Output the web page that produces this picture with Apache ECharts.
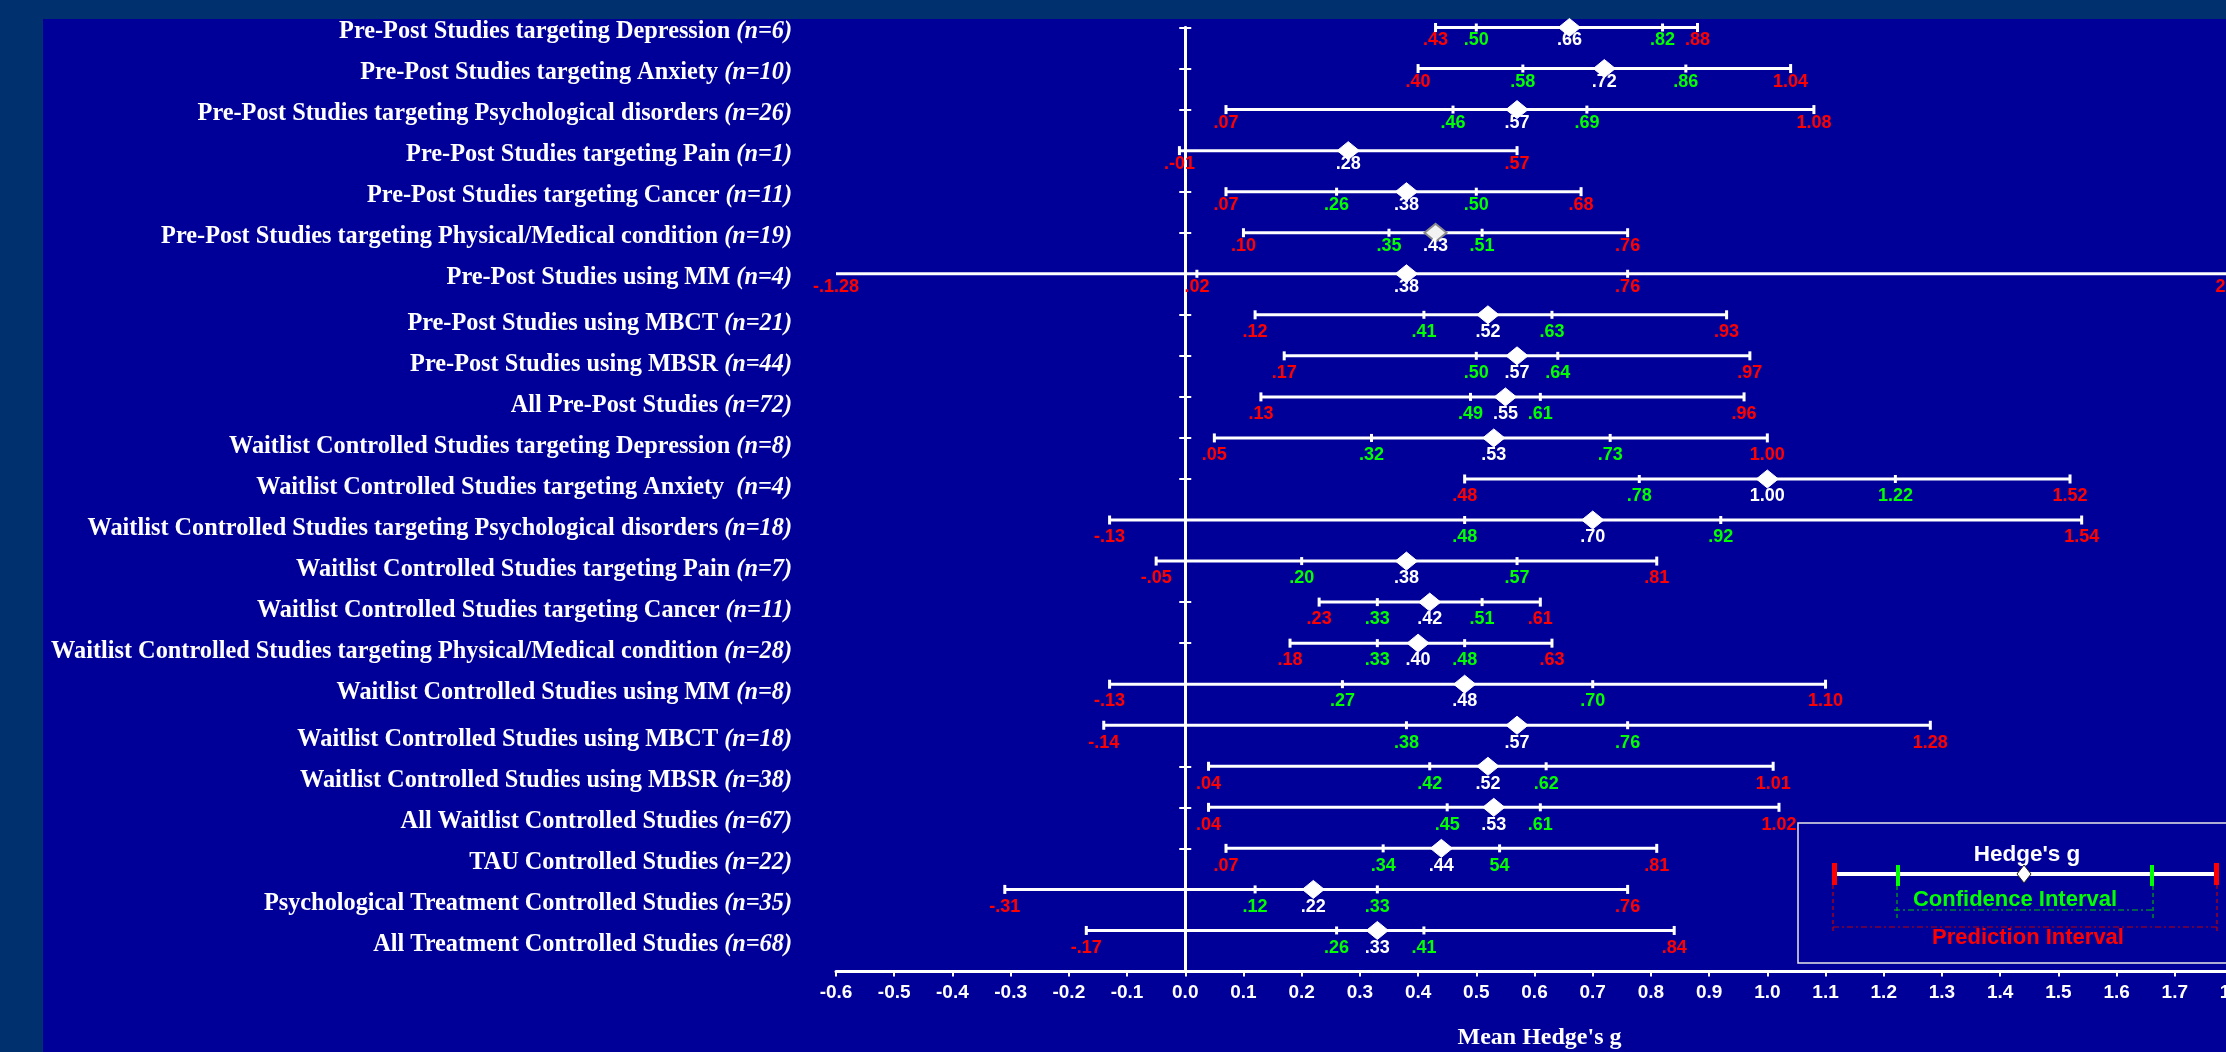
<!DOCTYPE html>
<html>
<head>
<meta charset="utf-8">
<script src="https://cdn.jsdelivr.net/npm/echarts@6/dist/echarts.min.js"></script>
<style>
  html, body { margin: 0; padding: 0; }
  #chart {
    width: 2226px; height: 1052px;
    background: linear-gradient(#000099, #000099) 43px 19px / 2183px 1033px no-repeat, #00306e;
  }
</style>
</head>
<body>
<div id="chart"></div>
<script>
// Meta-analysis summary: mean Hedge's g with confidence and prediction intervals
const studyNames = [
  'Pre-Post Studies targeting Depression',
  'Pre-Post Studies targeting Anxiety',
  'Pre-Post Studies targeting Psychological disorders',
  'Pre-Post Studies targeting Pain',
  'Pre-Post Studies targeting Cancer',
  'Pre-Post Studies targeting Physical/Medical condition',
  'Pre-Post Studies using MM',
  'Pre-Post Studies using MBCT',
  'Pre-Post Studies using MBSR',
  'All Pre-Post Studies',
  'Waitlist Controlled Studies targeting Depression',
  'Waitlist Controlled Studies targeting Anxiety ',
  'Waitlist Controlled Studies targeting Psychological disorders',
  'Waitlist Controlled Studies targeting Pain',
  'Waitlist Controlled Studies targeting Cancer',
  'Waitlist Controlled Studies targeting Physical/Medical condition',
  'Waitlist Controlled Studies using MM',
  'Waitlist Controlled Studies using MBCT',
  'Waitlist Controlled Studies using MBSR',
  'All Waitlist Controlled Studies',
  'TAU Controlled Studies',
  'Psychological Treatment Controlled Studies',
  'All Treatment Controlled Studies'
];
const studyCounts = [6, 10, 26, 1, 11, 19, 4, 21, 44, 72, 8, 4, 18, 7, 11, 28, 8, 18, 38, 67, 22, 35, 68];

const piLow   = [0.43, 0.40, 0.07, -0.01, 0.07, 0.10, -1.28, 0.12, 0.17, 0.13, 0.05, 0.48, -0.13, -0.05, 0.23, 0.18, -0.13, -0.14, 0.04, 0.04, 0.07, -0.31, -0.17];
const ciLow   = [0.50, 0.58, 0.46, null, 0.26, 0.35, 0.02, 0.41, 0.50, 0.49, 0.32, 0.78, 0.48, 0.20, 0.33, 0.33, 0.27, 0.38, 0.42, 0.45, 0.34, 0.12, 0.26];
const hedgesG = [0.66, 0.72, 0.57, 0.28, 0.38, 0.43, 0.38, 0.52, 0.57, 0.55, 0.53, 1.00, 0.70, 0.38, 0.42, 0.40, 0.48, 0.57, 0.52, 0.53, 0.44, 0.22, 0.33];
const ciHigh  = [0.82, 0.86, 0.69, null, 0.50, 0.51, 0.76, 0.63, 0.64, 0.61, 0.73, 1.22, 0.92, 0.57, 0.51, 0.48, 0.70, 0.76, 0.62, 0.61, 0.54, 0.33, 0.41];
const piHigh  = [0.88, 1.04, 1.08, 0.57, 0.68, 0.76, 2.04, 0.93, 0.97, 0.96, 1.00, 1.52, 1.54, 0.81, 0.61, 0.63, 1.10, 1.28, 1.01, 1.02, 0.81, 0.76, 0.84];

// x axis ticks
const xTickMin = -0.6;
const xTickMax = 1.8;
const xTickStep = 0.1;

// labels as printed on the slide (a few carry the original typing)
const printedText = { '3:piLow': '.-01', '6:piLow': '-.1.28', '20:ciHigh': '54' };

const WHITE = '#ffffff', RED = '#ff0000', GREEN = '#00ff00';
const SANS = '"Liberation Sans", Arial, sans-serif';
const VALUE_FONT = 'bold 18px ' + SANS;
const SERIF = '"Liberation Serif", "Times New Roman", serif';

// rows are set in three blocks, each one sitting a little lower
function blockOf(i) { return i < 7 ? 0 : (i < 17 ? 1 : 2); }
const valueLabelDrop = [13, 17, 17.5];
const nameLabelPad = [8, 18, 28];

function fmt(v) {
  return v.toFixed(2).replace(/^(-?)0\./, '$1.');
}
function labelText(i, key, v) {
  return printedText[i + ':' + key] || fmt(v);
}

const categories = studyNames.concat(['']);

function renderRow(params, api) {
  const i = params.dataIndex;
  const y = api.coord([0, i])[1];
  const xOf = v => api.coord([v, i])[0];
  const clampV = v => Math.min(Math.max(v, xTickMin), xTickMax);
  const kids = [];
  const ly = y + valueLabelDrop[blockOf(i)];

  // prediction interval bar
  kids.push({ type: 'line', shape: { x1: xOf(clampV(piLow[i])), y1: y, x2: xOf(clampV(piHigh[i])), y2: y },
    style: { stroke: WHITE, lineWidth: 3 } });
  const cap = (v, h) => ({ type: 'rect', shape: { x: xOf(v) - 1.5, y: y - h / 2, width: 3, height: h }, style: { fill: WHITE } });
  [piLow[i], piHigh[i]].forEach(v => { if (v >= xTickMin && v <= xTickMax) kids.push(cap(v, 9)); });
  [ciLow[i], ciHigh[i]].forEach(v => { if (v != null) kids.push(cap(v, 8)); });

  // point estimate
  const gx = xOf(hedgesG[i]);
  const hw = 11, hh = 9;
  const hollow = i === 5;
  kids.push({ type: 'polygon', shape: { points: [[gx, y - hh], [gx + hw, y], [gx, y + hh], [gx - hw, y]] },
    style: { fill: hollow ? '#f2f2f2' : WHITE, stroke: hollow ? '#8a8a8a' : WHITE, lineWidth: hollow ? 2 : 1 } });

  // value labels
  const txt = (v, s, color) => ({ type: 'text', style: { x: xOf(clampV(v)), y: ly, text: s, fill: color,
    font: VALUE_FONT, align: 'center', verticalAlign: 'middle' } });
  const ciColor = i === 6 ? RED : GREEN;
  kids.push(txt(piLow[i], labelText(i, 'piLow', piLow[i]), RED));
  kids.push(txt(piHigh[i], labelText(i, 'piHigh', piHigh[i]), RED));
  if (ciLow[i] != null) kids.push(txt(ciLow[i], labelText(i, 'ciLow', ciLow[i]), ciColor));
  if (ciHigh[i] != null) kids.push(txt(ciHigh[i], labelText(i, 'ciHigh', ciHigh[i]), ciColor));
  kids.push(txt(hedgesG[i], labelText(i, 'g', hedgesG[i]), WHITE));

  return { type: 'group', children: kids };
}

const nameRich = {};
nameLabelPad.forEach((p, b) => {
  nameRich['t' + b] = { fontFamily: SERIF, fontWeight: 'bold', fontSize: 24.3, color: WHITE, padding: [p, 0, 0, 0] };
  nameRich['n' + b] = { fontFamily: SERIF, fontWeight: 'bold', fontStyle: 'italic', fontSize: 24.3, color: WHITE, padding: [p, 0, 0, 0] };
});

const zeroAxis = (inside) => ({
  type: 'category', data: categories, inverse: true, boundaryGap: false,
  axisLine: { show: true, onZero: true, onZeroAxisIndex: 0, lineStyle: { color: WHITE, width: 3 } },
  axisTick: { show: true, inside: inside, length: 6, interval: 0, lineStyle: { color: WHITE, width: 2 } },
  axisLabel: { show: false }, splitLine: { show: false }
});

// legend key drawn at the lower right
const key = [
  { type: 'rect', shape: { x: 1798, y: 823, width: 460, height: 140 }, style: { fill: 'none', stroke: '#e8e8e8', lineWidth: 1.5 } },
  { type: 'text', style: { x: 2027, y: 855, text: "Hedge's g", fill: WHITE, font: 'bold 22.5px ' + SANS, align: 'center', verticalAlign: 'middle' } },
  { type: 'line', shape: { x1: 1835, y1: 874, x2: 2216, y2: 874 }, style: { stroke: WHITE, lineWidth: 4 } },
  { type: 'line', shape: { x1: 1897, y1: 886, x2: 1897, y2: 918 }, style: { stroke: '#00b000', lineWidth: 1.2, lineDash: [4, 3] } },
  { type: 'line', shape: { x1: 2153, y1: 886, x2: 2153, y2: 918 }, style: { stroke: '#00b000', lineWidth: 1.2, lineDash: [4, 3] } },
  { type: 'line', shape: { x1: 1894, y1: 910, x2: 2153, y2: 910 }, style: { stroke: '#00c000', lineWidth: 1.2, lineDash: [6, 3, 2, 3] } },
  { type: 'line', shape: { x1: 1833, y1: 885, x2: 1833, y2: 931 }, style: { stroke: '#c00000', lineWidth: 1.2, lineDash: [4, 3] } },
  { type: 'line', shape: { x1: 2217, y1: 885, x2: 2217, y2: 931 }, style: { stroke: '#c00000', lineWidth: 1.2, lineDash: [4, 3] } },
  { type: 'line', shape: { x1: 1833, y1: 927, x2: 2217, y2: 927 }, style: { stroke: '#c00000', lineWidth: 1.2, lineDash: [6, 3, 2, 3] } },
  { type: 'rect', shape: { x: 1832, y: 863, width: 5, height: 22 }, style: { fill: RED } },
  { type: 'rect', shape: { x: 2214, y: 863, width: 5, height: 22 }, style: { fill: RED } },
  { type: 'rect', shape: { x: 1896, y: 865, width: 4, height: 21 }, style: { fill: GREEN } },
  { type: 'rect', shape: { x: 2150, y: 865, width: 4, height: 21 }, style: { fill: GREEN } },
  { type: 'polygon', shape: { points: [[2024, 865], [2031, 874], [2024, 883], [2017, 874]] }, style: { fill: WHITE, stroke: '#222', lineWidth: 1 } },
  { type: 'text', style: { x: 2015, y: 900, text: 'Confidence Interval', fill: GREEN, font: 'bold 22px ' + SANS, align: 'center', verticalAlign: 'middle' } },
  { type: 'text', style: { x: 2028, y: 938, text: 'Prediction Interval', fill: RED, font: 'bold 22px ' + SANS, align: 'center', verticalAlign: 'middle' } }
];

const chart = echarts.init(document.getElementById('chart'), null, { renderer: 'canvas' });
chart.setOption({
  backgroundColor: 'transparent',
  animation: false,
  grid: { left: 836, top: 27.5, width: 1397, height: 944, containLabel: false, outerBoundsMode: 'none' },
  xAxis: {
    type: 'value', min: xTickMin, max: xTickMax, interval: xTickStep,
    axisLine: { show: true, onZero: false, lineStyle: { color: WHITE, width: 3 } },
    axisTick: { show: true, length: 5, lineStyle: { color: WHITE, width: 2 } },
    axisLabel: { color: WHITE, fontFamily: SANS, fontWeight: 'bold', fontSize: 19, margin: 12,
      formatter: v => v.toFixed(1) },
    splitLine: { show: false },
    name: "Mean Hedge's g", nameLocation: 'middle', nameGap: 54,
    nameTextStyle: { color: WHITE, fontFamily: SERIF, fontWeight: 'bold', fontSize: 24, padding: [0, 0, 0, 10] }
  },
  yAxis: [
    {
      type: 'category', data: categories, inverse: true, boundaryGap: false,
      axisLine: { show: false, onZero: false }, axisTick: { show: false }, splitLine: { show: false },
      axisLabel: {
        interval: 0, margin: 44, align: 'right',
        formatter: (value, idx) => value ? '{t' + blockOf(idx) + '|' + value + ' }{n' + blockOf(idx) + '|(n=' + studyCounts[idx] + ')}' : '',
        rich: nameRich
      }
    },
    zeroAxis(false),
    zeroAxis(true)
  ],
  series: [{
    type: 'custom',
    clip: false,
    yAxisIndex: 0,
    encode: { x: 0, y: 1 },
    data: hedgesG.map((g, i) => [g, i]),
    renderItem: renderRow,
    z: 5
  }],
  graphic: { elements: key }
});
</script>
</body>
</html>
